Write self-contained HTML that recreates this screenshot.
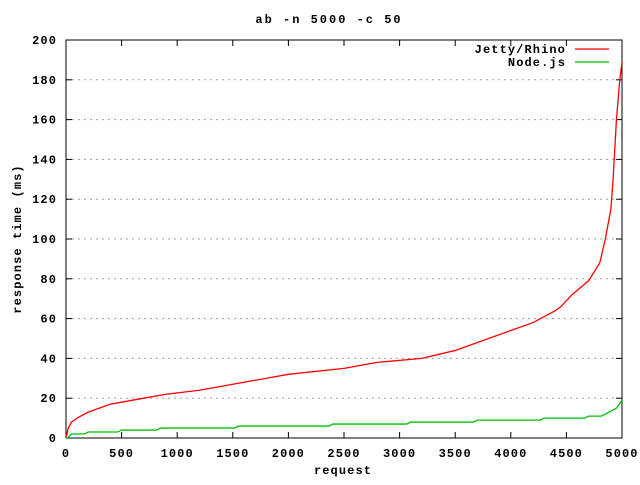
<!DOCTYPE html>
<html><head><meta charset="utf-8"><style>
body{margin:0;background:#fff}
svg text{font-family:"Liberation Mono",monospace;font-size:12px;font-weight:bold;fill:#000;letter-spacing:1.1px}
</style></head><body>
<svg id="c" width="640" height="480" xmlns="http://www.w3.org/2000/svg"></svg>
<script>
const xTicks=[0,500,1000,1500,2000,2500,3000,3500,4000,4500,5000];
const yTicks=[0,20,40,60,80,100,120,140,160,180,200];
const jettyX=[0,20,50,100,200,300,400,500,700,900,1200,1500,2000,2500,2800,3200,3500,3800,4000,4200,4400,4450,4550,4700,4800,4850,4900,4920,4950,4980,5000];
const jettyY=[0,5,8,10,13,15,17,18,20,22,24,27,32,35,38,40,44,50,54,58,64,66,72,79,88,100,115,130,160,180,189];
const nodeX=[0,50,200,500,850,1550,2400,3100,3700,4300,4700,4850,4950,5000];
const nodeY=[0,2,3,4,5,6,7,8,9,10,11,12,15,19];
const L=66,R=622,T=40,B=438;
const sx=v=>L+(v/5000)*(R-L), sy=v=>B-(v/200)*(B-T);
const svg=document.getElementById('c');const NS='http://www.w3.org/2000/svg';
function mk(t,a,p){const e=document.createElementNS(NS,t);for(const k in a)e.setAttribute(k,a[k]);(p||svg).appendChild(e);return e;}
yTicks.forEach(v=>{
 if(v>0&&v<200){const g=mk('line',{x1:L,x2:R,y1:sy(v),y2:sy(v),stroke:'#a0a0a0','stroke-dasharray':'2,4'});
 
 }
 const t=mk('line',{x1:L,x2:L+6,y1:sy(v),y2:sy(v),stroke:'#000'});
 
 
 mk('line',{x1:R-6,x2:R,y1:sy(v),y2:sy(v),stroke:'#000'});
 const l=mk('text',{x:57,y:sy(v)+4,'text-anchor':'end'});l.textContent=v;
 
 
});
xTicks.forEach(v=>{
 const t=mk('line',{x1:sx(v),x2:sx(v),y1:B,y2:B-6,stroke:'#000'});
 
 
 mk('line',{x1:sx(v),x2:sx(v),y1:T,y2:T+6,stroke:'#000'});
 const l=mk('text',{x:sx(v),y:457,'text-anchor':'middle'});l.textContent=v;
 
 
});
const fr=mk('rect',{x:L,y:T,width:R-L,height:B-T,fill:'none',stroke:'#000'});


function series(xs,ys,c,n,step){let pts=[];
 xs.forEach((x,i)=>{if(step&&i>0&&i<xs.length-2)pts.push(sx(x)-4+','+sy(ys[i-1]));pts.push(sx(x)+','+sy(ys[i]));});
 const p=mk('polyline',{points:pts.join(' '),fill:'none',stroke:c,'stroke-width':1.3});
 
 }
series(jettyX,jettyY,'#ff0000','jetty-rhino-line',false);
series(nodeX,nodeY,'#00c000','nodejs-line',true);
const tt=mk('text',{x:329,y:23,'text-anchor':'middle','style':'letter-spacing:2px'});tt.textContent='ab -n 5000 -c 50';


const xt=mk('text',{x:343,y:474,'text-anchor':'middle'});xt.textContent='request';


const yt=mk('text',{x:0,y:0,'text-anchor':'middle',transform:'translate(21,239) rotate(-90)'});yt.textContent='response time (ms)';


[['Jetty/Rhino','#ff0000',49],['Node.js','#00c000',62]].forEach(([n,c,y])=>{
 const t=mk('text',{x:566,y:y+4,'text-anchor':'end'});t.textContent=n;
 
 
 const l=mk('line',{x1:575,x2:609,y1:y,y2:y,stroke:c,'stroke-width':1.2});
 
 
});
</script>
</body></html>
